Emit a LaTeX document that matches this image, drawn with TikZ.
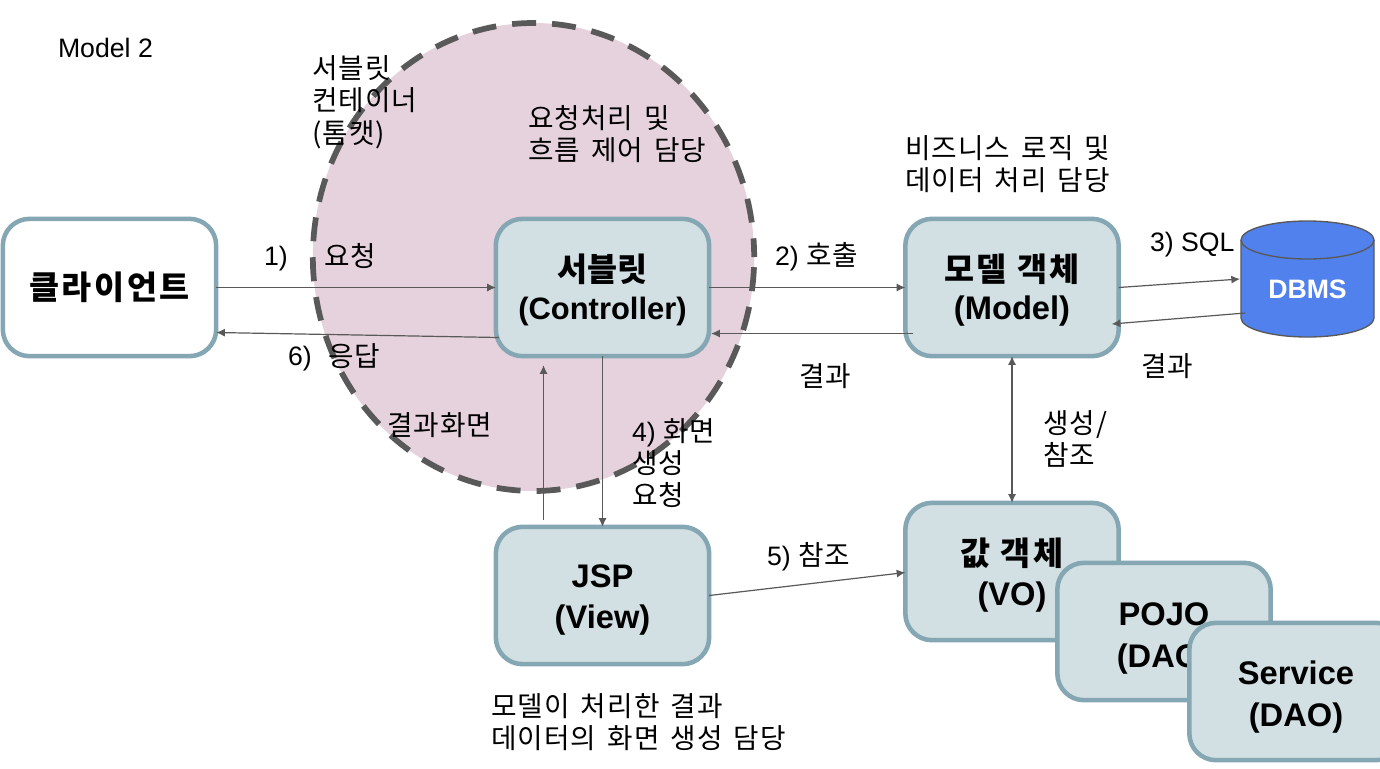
\documentclass[tikz,border=0pt]{standalone}
\usepackage{fontspec}
\setmainfont{Liberation Sans}
\newfontfamily\kr[WordSpace=1.5,Scale=1.04,LetterSpace=4]{Noto Sans CJK KR}
\newfontfamily\krb{Noto Sans CJK KR}
\newfontfamily\krw[LetterSpace=8]{Noto Sans CJK KR}
\usetikzlibrary{arrows.meta,shapes.geometric}
\definecolor{linegray}{HTML}{595959}
\definecolor{boxedge}{HTML}{84A7B3}
\definecolor{boxfill}{HTML}{D2DFE3}
\definecolor{petal}{HTML}{E6D2DC}
\definecolor{dbblue}{HTML}{5081EC}
\newcommand\dn[1]{\rule{0pt}{#1}}
\tikzset{
  x=0.75pt,y=-0.75pt,
  box/.style={draw=boxedge,fill=boxfill,line width=3.4pt,rounded corners=20pt,minimum width=160pt,minimum height=103pt,inner sep=0pt,outer sep=0pt,align=center,text=black,font=\fontsize{24.5}{31}\selectfont\bfseries},
  lab/.style={anchor=west,align=left,inner sep=0pt,outer sep=0pt,font=\fontsize{20}{24.3}\selectfont},
  conn/.style={draw=linegray,line width=0.9pt,-{Latex[length=6.5pt,width=6pt]}},
  both/.style={draw=linegray,line width=0.9pt,{Latex[length=6.5pt,width=6pt]}-{Latex[length=6.5pt,width=6pt]}},
}
\begin{document}
\begin{tikzpicture}
\clip (0,0) rectangle (1380,768);
\fill[white] (0,0) rectangle (1380,768);
\node[ellipse,draw=linegray,fill=petal,line width=4.3pt,dash pattern=on 18pt off 12pt,dash phase=4pt,minimum width=331pt,minimum height=351pt,inner sep=0pt,outer sep=0pt] (container) at (533.5,257) {};
\node[box,fill=white] (client) at (109.5,287.5) {\krw 클라이언트};
\node[box] (ctrl) at (602.5,287.5) {\dn{25pt}\krb 서블릿\\[-2.5pt]\fontsize{23.2}{30}\selectfont (Controller)};
\node[box] (model) at (1012,287.5) {\dn{25pt}\krw 모델 객체\\[-2.5pt](Model)};
\node[box] (jsp) at (602.5,595.5) {\dn{24pt}JSP\\(View)};
\node[box] (vo) at (1012,571.5) {\dn{26pt}\krw 값 객체\\[-1pt](VO)};
\node[box] (pojo) at (1164,631.5) {\dn{27.5pt}POJO\\(DAO)};
\node[box] (svc) at (1296,691.5) {\dn{26pt}Service\\(DAO)};
\draw[linegray,line width=1pt,fill=dbblue] (1241,240) arc[start angle=180,end angle=0,x radius=66.5,y radius=-19] -- (1374,318) arc[start angle=0,end angle=-180,x radius=66.5,y radius=-19] -- cycle;
\draw[linegray,line width=1pt] (1241,240) arc[start angle=180,end angle=360,x radius=66.5,y radius=-19];
\node[text=white,font=\fontsize{20}{24}\selectfont\bfseries,minimum width=100pt,minimum height=87pt,inner sep=0pt,outer sep=0pt,yshift=-8pt] (db) at (1307.5,279) {DBMS};
\coordinate (dbw) at (1241,279);
% connectors
\draw[conn] (client.east) -- (ctrl.west);
\draw[conn] ([shift={(3,50)}]ctrl.west) -- ([shift={(0,45)}]client.east);
\draw[conn] (ctrl.east) -- (model.west);
\draw[conn] ([shift={(8,46)}]model.west) -- ([shift={(2,46)}]ctrl.east);
\draw[conn] (model.east) -- ([shift={(-1,0)}]dbw);
\draw[conn] ([shift={(4,34)}]dbw) -- ([shift={(-7,36.5)}]model.east);
\draw[conn] ([shift={(-59,-7)}]jsp.north) -- ([shift={(-59,9)}]ctrl.south);
\draw[conn] (ctrl.south) -- (jsp.north);
\draw[both] (model.south) -- (vo.north);
\draw[conn] (jsp.east) -- ([shift={(0,1)}]vo.west);
% labels
\node[lab] (t1) at (58,48) {Model 2};
\node[lab] (t2) at (312,102) {\kr 서블릿\\\kr 컨테이너\\\kr (톰캣)};
\node[lab] (t3) at (528,134) {\kr 요청처리 및\\\kr 흐름 제어 담당};
\node[lab] (t4) at (905,164) {\kr 비즈니스 로직 및\\\kr 데이터 처리 담당};
\node[lab] (t5) at (264,259) {1)};
\node[lab] (t6) at (324,256.5) {\kr 요청};
\node[lab] (t7) at (775,257) {2) {\kr 호출}};
\node[lab] (t8) at (1150,245) {3) SQL};
\node[lab] (t9) at (799,376.5) {\kr 결과};
\node[lab] (t10) at (1141,366.5) {\kr 결과};
\node[lab] (t11) at (288,359) {6)};
\node[lab] (t12) at (328,356.5) {\kr 응답};
\node[lab] (t13) at (387,425.5) {\kr 결과화면};
\node[lab] (t14) at (632,463) {4) {\kr 화면}\\\kr 생성\\\kr 요청};
\node[lab] (t15) at (1043,439) {\kr 생성/\\\kr 참조};
\node[lab] (t16) at (767,557) {5) {\kr 참조}};
\node[lab] (t17) at (491,722) {\kr 모델이 처리한 결과\\\kr 데이터의 화면 생성 담당};
\end{tikzpicture}
\end{document}
